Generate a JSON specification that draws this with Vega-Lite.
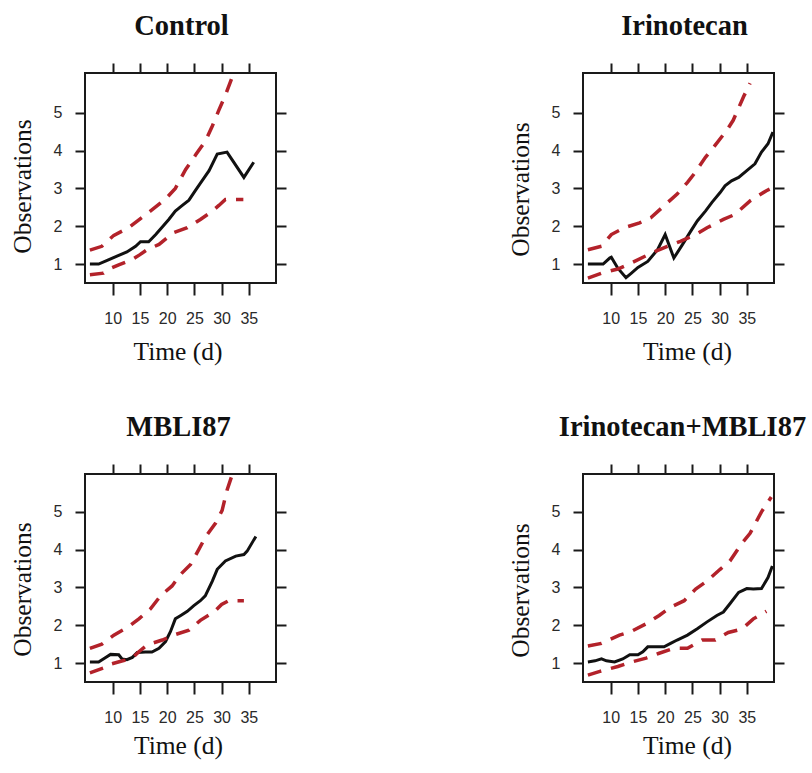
{
  "$schema": "https://vega.github.io/schema/vega-lite/v6.json",
  "padding": {"left": 9, "top": 10, "right": 0, "bottom": 0},
  "background": "white",
  "datasets": {
    "all": [
      {"p":"Control","s":"obs","d":5.8,"v":1.0},{"p":"Control","s":"obs","d":7.4,"v":1.0},{"p":"Control","s":"obs","d":9.3,"v":1.12},{"p":"Control","s":"obs","d":11.1,"v":1.23},{"p":"Control","s":"obs","d":12.6,"v":1.32},{"p":"Control","s":"obs","d":14.2,"v":1.47},{"p":"Control","s":"obs","d":15.1,"v":1.59},{"p":"Control","s":"obs","d":16.6,"v":1.59},{"p":"Control","s":"obs","d":17.9,"v":1.78},{"p":"Control","s":"obs","d":19.1,"v":1.98},{"p":"Control","s":"obs","d":20.3,"v":2.18},{"p":"Control","s":"obs","d":21.5,"v":2.4},{"p":"Control","s":"obs","d":22.5,"v":2.52},{"p":"Control","s":"obs","d":24,"v":2.69},{"p":"Control","s":"obs","d":25.2,"v":2.95},{"p":"Control","s":"obs","d":26.4,"v":3.2},{"p":"Control","s":"obs","d":27.7,"v":3.47},{"p":"Control","s":"obs","d":29.2,"v":3.91},{"p":"Control","s":"obs","d":31,"v":3.96},{"p":"Control","s":"obs","d":34.1,"v":3.29},{"p":"Control","s":"obs","d":35.9,"v":3.69},
      {"p":"Control","s":"upper","d":5.8,"v":1.37},{"p":"Control","s":"upper","d":8,"v":1.47},{"p":"Control","s":"upper","d":10.2,"v":1.76},{"p":"Control","s":"upper","d":12.9,"v":1.96},{"p":"Control","s":"upper","d":14.8,"v":2.17},{"p":"Control","s":"upper","d":16.9,"v":2.4},{"p":"Control","s":"upper","d":19.7,"v":2.72},{"p":"Control","s":"upper","d":21.5,"v":3.0},{"p":"Control","s":"upper","d":23.4,"v":3.5},{"p":"Control","s":"upper","d":25.3,"v":3.9},{"p":"Control","s":"upper","d":27.1,"v":4.27},{"p":"Control","s":"upper","d":28.3,"v":4.65},{"p":"Control","s":"upper","d":29.5,"v":5.07},{"p":"Control","s":"upper","d":30.8,"v":5.5},{"p":"Control","s":"upper","d":32,"v":5.96},{"p":"Control","s":"upper","d":32.5,"v":6.2},
      {"p":"Control","s":"lower","d":5.8,"v":0.72},{"p":"Control","s":"lower","d":8.3,"v":0.76},{"p":"Control","s":"lower","d":9.5,"v":0.88},{"p":"Control","s":"lower","d":11.1,"v":0.98},{"p":"Control","s":"lower","d":13.6,"v":1.12},{"p":"Control","s":"lower","d":15,"v":1.25},{"p":"Control","s":"lower","d":16.3,"v":1.38},{"p":"Control","s":"lower","d":18.5,"v":1.52},{"p":"Control","s":"lower","d":21.2,"v":1.83},{"p":"Control","s":"lower","d":23.7,"v":1.96},{"p":"Control","s":"lower","d":26.1,"v":2.18},{"p":"Control","s":"lower","d":28.3,"v":2.4},{"p":"Control","s":"lower","d":29.5,"v":2.55},{"p":"Control","s":"lower","d":30.7,"v":2.71},{"p":"Control","s":"lower","d":34,"v":2.71},

      {"p":"Irinotecan","s":"obs","d":5.8,"v":1.0},{"p":"Irinotecan","s":"obs","d":8.6,"v":1.0},{"p":"Irinotecan","s":"obs","d":9.8,"v":1.16},{"p":"Irinotecan","s":"obs","d":10.1,"v":1.18},{"p":"Irinotecan","s":"obs","d":11.3,"v":0.89},{"p":"Irinotecan","s":"obs","d":12.8,"v":0.64},{"p":"Irinotecan","s":"obs","d":13.8,"v":0.76},{"p":"Irinotecan","s":"obs","d":15,"v":0.91},{"p":"Irinotecan","s":"obs","d":16.8,"v":1.07},{"p":"Irinotecan","s":"obs","d":18.6,"v":1.38},{"p":"Irinotecan","s":"obs","d":20,"v":1.78},{"p":"Irinotecan","s":"obs","d":21.6,"v":1.16},{"p":"Irinotecan","s":"obs","d":23.2,"v":1.52},{"p":"Irinotecan","s":"obs","d":24.7,"v":1.87},{"p":"Irinotecan","s":"obs","d":25.9,"v":2.14},{"p":"Irinotecan","s":"obs","d":27.4,"v":2.4},{"p":"Irinotecan","s":"obs","d":28.6,"v":2.63},{"p":"Irinotecan","s":"obs","d":30.1,"v":2.89},{"p":"Irinotecan","s":"obs","d":31,"v":3.07},{"p":"Irinotecan","s":"obs","d":32.2,"v":3.2},{"p":"Irinotecan","s":"obs","d":33.5,"v":3.29},{"p":"Irinotecan","s":"obs","d":35,"v":3.47},{"p":"Irinotecan","s":"obs","d":36.5,"v":3.65},{"p":"Irinotecan","s":"obs","d":37.7,"v":3.96},{"p":"Irinotecan","s":"obs","d":38.9,"v":4.18},{"p":"Irinotecan","s":"obs","d":39.8,"v":4.49},
      {"p":"Irinotecan","s":"upper","d":5.8,"v":1.38},{"p":"Irinotecan","s":"upper","d":8.3,"v":1.47},{"p":"Irinotecan","s":"upper","d":10.1,"v":1.78},{"p":"Irinotecan","s":"upper","d":12.5,"v":1.96},{"p":"Irinotecan","s":"upper","d":15.3,"v":2.09},{"p":"Irinotecan","s":"upper","d":17.4,"v":2.23},{"p":"Irinotecan","s":"upper","d":20.1,"v":2.58},{"p":"Irinotecan","s":"upper","d":22.2,"v":2.85},{"p":"Irinotecan","s":"upper","d":24.1,"v":3.16},{"p":"Irinotecan","s":"upper","d":25.3,"v":3.38},{"p":"Irinotecan","s":"upper","d":27.4,"v":3.82},{"p":"Irinotecan","s":"upper","d":28.9,"v":4.09},{"p":"Irinotecan","s":"upper","d":31.3,"v":4.53},{"p":"Irinotecan","s":"upper","d":32.5,"v":4.8},{"p":"Irinotecan","s":"upper","d":34.4,"v":5.42},{"p":"Irinotecan","s":"upper","d":35.6,"v":5.78},
      {"p":"Irinotecan","s":"lower","d":5.8,"v":0.63},{"p":"Irinotecan","s":"lower","d":8.3,"v":0.76},{"p":"Irinotecan","s":"lower","d":11.3,"v":0.87},{"p":"Irinotecan","s":"lower","d":13.8,"v":1.03},{"p":"Irinotecan","s":"lower","d":16.2,"v":1.2},{"p":"Irinotecan","s":"lower","d":18.3,"v":1.34},{"p":"Irinotecan","s":"lower","d":20.4,"v":1.47},{"p":"Irinotecan","s":"lower","d":22.8,"v":1.6},{"p":"Irinotecan","s":"lower","d":25.6,"v":1.78},{"p":"Irinotecan","s":"lower","d":27.7,"v":1.96},{"p":"Irinotecan","s":"lower","d":30.7,"v":2.18},{"p":"Irinotecan","s":"lower","d":32.8,"v":2.31},{"p":"Irinotecan","s":"lower","d":35.6,"v":2.67},{"p":"Irinotecan","s":"lower","d":38.6,"v":2.94},{"p":"Irinotecan","s":"lower","d":39.2,"v":2.98},

      {"p":"MBLI87","s":"obs","d":5.8,"v":1.03},{"p":"MBLI87","s":"obs","d":7.4,"v":1.03},{"p":"MBLI87","s":"obs","d":8.7,"v":1.15},{"p":"MBLI87","s":"obs","d":9.6,"v":1.23},{"p":"MBLI87","s":"obs","d":11.1,"v":1.22},{"p":"MBLI87","s":"obs","d":11.7,"v":1.11},{"p":"MBLI87","s":"obs","d":12.6,"v":1.09},{"p":"MBLI87","s":"obs","d":13.6,"v":1.15},{"p":"MBLI87","s":"obs","d":14.5,"v":1.28},{"p":"MBLI87","s":"obs","d":16,"v":1.29},{"p":"MBLI87","s":"obs","d":17.2,"v":1.29},{"p":"MBLI87","s":"obs","d":18.5,"v":1.39},{"p":"MBLI87","s":"obs","d":19.7,"v":1.57},{"p":"MBLI87","s":"obs","d":20.6,"v":1.83},{"p":"MBLI87","s":"obs","d":21.5,"v":2.17},{"p":"MBLI87","s":"obs","d":22.5,"v":2.26},{"p":"MBLI87","s":"obs","d":23.7,"v":2.37},{"p":"MBLI87","s":"obs","d":24.9,"v":2.52},{"p":"MBLI87","s":"obs","d":26.1,"v":2.65},{"p":"MBLI87","s":"obs","d":27,"v":2.78},{"p":"MBLI87","s":"obs","d":28.3,"v":3.17},{"p":"MBLI87","s":"obs","d":29.2,"v":3.48},{"p":"MBLI87","s":"obs","d":30.7,"v":3.7},{"p":"MBLI87","s":"obs","d":32.6,"v":3.83},{"p":"MBLI87","s":"obs","d":34.1,"v":3.87},{"p":"MBLI87","s":"obs","d":34.7,"v":3.96},{"p":"MBLI87","s":"obs","d":36.3,"v":4.35},
      {"p":"MBLI87","s":"upper","d":5.8,"v":1.39},{"p":"MBLI87","s":"upper","d":8,"v":1.5},{"p":"MBLI87","s":"upper","d":10.2,"v":1.74},{"p":"MBLI87","s":"upper","d":12.9,"v":1.96},{"p":"MBLI87","s":"upper","d":14.8,"v":2.17},{"p":"MBLI87","s":"upper","d":16.9,"v":2.43},{"p":"MBLI87","s":"upper","d":18.8,"v":2.78},{"p":"MBLI87","s":"upper","d":20.9,"v":3.04},{"p":"MBLI87","s":"upper","d":22.5,"v":3.35},{"p":"MBLI87","s":"upper","d":24.3,"v":3.61},{"p":"MBLI87","s":"upper","d":25.8,"v":4.0},{"p":"MBLI87","s":"upper","d":27.1,"v":4.35},{"p":"MBLI87","s":"upper","d":28.9,"v":4.7},{"p":"MBLI87","s":"upper","d":30.1,"v":5.04},{"p":"MBLI87","s":"upper","d":31,"v":5.57},{"p":"MBLI87","s":"upper","d":31.9,"v":5.96},{"p":"MBLI87","s":"upper","d":32.3,"v":6.2},
      {"p":"MBLI87","s":"lower","d":5.8,"v":0.74},{"p":"MBLI87","s":"lower","d":8.3,"v":0.87},{"p":"MBLI87","s":"lower","d":9.8,"v":0.98},{"p":"MBLI87","s":"lower","d":11.5,"v":1.05},{"p":"MBLI87","s":"lower","d":13.5,"v":1.12},{"p":"MBLI87","s":"lower","d":14.8,"v":1.3},{"p":"MBLI87","s":"lower","d":16.3,"v":1.48},{"p":"MBLI87","s":"lower","d":19.1,"v":1.61},{"p":"MBLI87","s":"lower","d":21.2,"v":1.74},{"p":"MBLI87","s":"lower","d":24,"v":1.87},{"p":"MBLI87","s":"lower","d":26.1,"v":2.13},{"p":"MBLI87","s":"lower","d":28.6,"v":2.35},{"p":"MBLI87","s":"lower","d":30,"v":2.55},{"p":"MBLI87","s":"lower","d":31.3,"v":2.65},{"p":"MBLI87","s":"lower","d":34.1,"v":2.65},

      {"p":"Irinotecan+MBLI87","s":"obs","d":5.8,"v":1.03},{"p":"Irinotecan+MBLI87","s":"obs","d":7.1,"v":1.06},{"p":"Irinotecan+MBLI87","s":"obs","d":8.3,"v":1.11},{"p":"Irinotecan+MBLI87","s":"obs","d":9.2,"v":1.06},{"p":"Irinotecan+MBLI87","s":"obs","d":10.7,"v":1.03},{"p":"Irinotecan+MBLI87","s":"obs","d":12.2,"v":1.11},{"p":"Irinotecan+MBLI87","s":"obs","d":13.5,"v":1.22},{"p":"Irinotecan+MBLI87","s":"obs","d":15,"v":1.22},{"p":"Irinotecan+MBLI87","s":"obs","d":15.9,"v":1.3},{"p":"Irinotecan+MBLI87","s":"obs","d":16.8,"v":1.43},{"p":"Irinotecan+MBLI87","s":"obs","d":18,"v":1.43},{"p":"Irinotecan+MBLI87","s":"obs","d":19.8,"v":1.43},{"p":"Irinotecan+MBLI87","s":"obs","d":21,"v":1.52},{"p":"Irinotecan+MBLI87","s":"obs","d":22.2,"v":1.61},{"p":"Irinotecan+MBLI87","s":"obs","d":24.1,"v":1.74},{"p":"Irinotecan+MBLI87","s":"obs","d":25.9,"v":1.91},{"p":"Irinotecan+MBLI87","s":"obs","d":27.7,"v":2.09},{"p":"Irinotecan+MBLI87","s":"obs","d":29.5,"v":2.26},{"p":"Irinotecan+MBLI87","s":"obs","d":30.7,"v":2.35},{"p":"Irinotecan+MBLI87","s":"obs","d":31.9,"v":2.57},{"p":"Irinotecan+MBLI87","s":"obs","d":33.5,"v":2.87},{"p":"Irinotecan+MBLI87","s":"obs","d":35,"v":2.97},{"p":"Irinotecan+MBLI87","s":"obs","d":36.2,"v":2.96},{"p":"Irinotecan+MBLI87","s":"obs","d":37.7,"v":2.97},{"p":"Irinotecan+MBLI87","s":"obs","d":38.9,"v":3.26},{"p":"Irinotecan+MBLI87","s":"obs","d":39.7,"v":3.57},
      {"p":"Irinotecan+MBLI87","s":"upper","d":5.8,"v":1.45},{"p":"Irinotecan+MBLI87","s":"upper","d":8.3,"v":1.52},{"p":"Irinotecan+MBLI87","s":"upper","d":11.6,"v":1.74},{"p":"Irinotecan+MBLI87","s":"upper","d":13.8,"v":1.84},{"p":"Irinotecan+MBLI87","s":"upper","d":16.5,"v":2.04},{"p":"Irinotecan+MBLI87","s":"upper","d":18.9,"v":2.26},{"p":"Irinotecan+MBLI87","s":"upper","d":21,"v":2.48},{"p":"Irinotecan+MBLI87","s":"upper","d":23.5,"v":2.65},{"p":"Irinotecan+MBLI87","s":"upper","d":25.6,"v":2.96},{"p":"Irinotecan+MBLI87","s":"upper","d":27.7,"v":3.17},{"p":"Irinotecan+MBLI87","s":"upper","d":30.1,"v":3.48},{"p":"Irinotecan+MBLI87","s":"upper","d":31.9,"v":3.7},{"p":"Irinotecan+MBLI87","s":"upper","d":34.1,"v":4.17},{"p":"Irinotecan+MBLI87","s":"upper","d":35.6,"v":4.43},{"p":"Irinotecan+MBLI87","s":"upper","d":37.7,"v":5.0},{"p":"Irinotecan+MBLI87","s":"upper","d":39.5,"v":5.39},
      {"p":"Irinotecan+MBLI87","s":"lower","d":5.8,"v":0.68},{"p":"Irinotecan+MBLI87","s":"lower","d":8,"v":0.78},{"p":"Irinotecan+MBLI87","s":"lower","d":11.3,"v":0.91},{"p":"Irinotecan+MBLI87","s":"lower","d":13.8,"v":1.03},{"p":"Irinotecan+MBLI87","s":"lower","d":16.5,"v":1.13},{"p":"Irinotecan+MBLI87","s":"lower","d":18.9,"v":1.26},{"p":"Irinotecan+MBLI87","s":"lower","d":21.6,"v":1.39},{"p":"Irinotecan+MBLI87","s":"lower","d":24.1,"v":1.39},{"p":"Irinotecan+MBLI87","s":"lower","d":26.8,"v":1.61},{"p":"Irinotecan+MBLI87","s":"lower","d":29.2,"v":1.61},{"p":"Irinotecan+MBLI87","s":"lower","d":31.6,"v":1.81},{"p":"Irinotecan+MBLI87","s":"lower","d":34.1,"v":1.9},{"p":"Irinotecan+MBLI87","s":"lower","d":36.2,"v":2.17},{"p":"Irinotecan+MBLI87","s":"lower","d":38.6,"v":2.37}
    ]
  },
  "config": {
    "view": {"stroke": "#1a1a1a", "strokeWidth": 2},
    "axis": {"domain": false, "grid": false, "tickColor": "#1a1a1a", "tickWidth": 2, "tickSize": 10, "labelFont": "Liberation Sans", "labelFontSize": 16, "labelColor": "#2a2a2a", "titleFont": "Liberation Serif", "titleFontSize": 25.5, "titleFontWeight": "normal", "titleColor": "#111111", "labelOverlap": false},
    "title": {"font": "Liberation Serif", "fontSize": 28.5, "fontWeight": "bold", "color": "#111111", "baseline": "alphabetic", "offset": 22, "anchor": "middle"}
  },
  "columns": 2,
  "spacing": {"row": 191, "column": 307},
  "bounds": "flush",
  "concat": [
    {
      "title": {"text": "Control", "dx": 1},
      "width": 191, "height": 210,
      "data": {"name": "all"},
      "transform": [{"filter": "datum.p == 'Control'"}],
      "layer": [
        {"transform": [{"filter": "datum.s == 'obs'"}],
         "mark": {"type": "line", "color": "#111111", "strokeWidth": 3, "clip": true},
         "encoding": {
           "x": {"field": "d", "type": "quantitative", "scale": {"domain": [4.9, 40], "nice": false, "zero": false}, "axis": {"orient": "bottom", "values": [10, 15, 20, 25, 30, 35], "title": "Time (d)", "tickSize": 12, "labelPadding": 15, "titlePadding": 33, "titleBaseline": "alphabetic", "titleX": 92.5}},
           "y": {"field": "v", "type": "quantitative", "scale": {"domain": [0.5, 6.05], "nice": false, "zero": false}, "axis": {"orient": "left", "values": [1, 2, 3, 4, 5], "title": "Observations", "labelPadding": 13, "titlePadding": 23, "titleBaseline": "alphabetic", "titleY": 113}}
         }},
        {"transform": [{"filter": "datum.s != 'obs'"}],
         "mark": {"type": "line", "color": "#b3222a", "strokeWidth": 3.5, "strokeDash": [14, 10], "clip": true},
         "encoding": {
           "x": {"field": "d", "type": "quantitative", "axis": {"orient": "top", "values": [10, 15, 20, 25, 30, 35], "labels": false, "title": null}},
           "y": {"field": "v", "type": "quantitative", "axis": {"orient": "right", "values": [1, 2, 3, 4, 5], "labels": false, "title": null}},
           "detail": {"field": "s"}
         }}
      ],
      "resolve": {"axis": {"x": "independent", "y": "independent"}}
    },
    {
      "title": {"text": "Irinotecan", "dx": 6},
      "width": 191, "height": 210,
      "data": {"name": "all"},
      "transform": [{"filter": "datum.p == 'Irinotecan'"}],
      "layer": [
        {"transform": [{"filter": "datum.s == 'obs'"}],
         "mark": {"type": "line", "color": "#111111", "strokeWidth": 3, "clip": true},
         "encoding": {
           "x": {"field": "d", "type": "quantitative", "scale": {"domain": [4.9, 40], "nice": false, "zero": false}, "axis": {"orient": "bottom", "values": [10, 15, 20, 25, 30, 35], "title": "Time (d)", "tickSize": 12, "labelPadding": 15, "titlePadding": 33, "titleBaseline": "alphabetic", "titleX": 104}},
           "y": {"field": "v", "type": "quantitative", "scale": {"domain": [0.5, 6.05], "nice": false, "zero": false}, "axis": {"orient": "left", "values": [1, 2, 3, 4, 5], "title": "Observations", "labelPadding": 13, "titlePadding": 23, "titleBaseline": "alphabetic", "titleY": 116}}
         }},
        {"transform": [{"filter": "datum.s != 'obs'"}],
         "mark": {"type": "line", "color": "#b3222a", "strokeWidth": 3.5, "strokeDash": [14, 10], "clip": true},
         "encoding": {
           "x": {"field": "d", "type": "quantitative", "axis": {"orient": "top", "values": [10, 15, 20, 25, 30, 35], "labels": false, "title": null}},
           "y": {"field": "v", "type": "quantitative", "axis": {"orient": "right", "values": [1, 2, 3, 4, 5], "labels": false, "title": null}},
           "detail": {"field": "s"}
         }}
      ],
      "resolve": {"axis": {"x": "independent", "y": "independent"}}
    },
    {
      "title": {"text": "MBLI87", "dx": -2},
      "width": 191, "height": 208,
      "data": {"name": "all"},
      "transform": [{"filter": "datum.p == 'MBLI87'"}],
      "layer": [
        {"transform": [{"filter": "datum.s == 'obs'"}],
         "mark": {"type": "line", "color": "#111111", "strokeWidth": 3, "clip": true},
         "encoding": {
           "x": {"field": "d", "type": "quantitative", "scale": {"domain": [4.9, 40], "nice": false, "zero": false}, "axis": {"orient": "bottom", "values": [10, 15, 20, 25, 30, 35], "title": "Time (d)", "tickSize": 12, "labelPadding": 15, "titlePadding": 28, "titleBaseline": "alphabetic", "titleX": 93}},
           "y": {"field": "v", "type": "quantitative", "scale": {"domain": [0.5, 6.0], "nice": false, "zero": false}, "axis": {"orient": "left", "values": [1, 2, 3, 4, 5], "title": "Observations", "labelPadding": 13, "titlePadding": 23, "titleBaseline": "alphabetic", "titleY": 115}}
         }},
        {"transform": [{"filter": "datum.s != 'obs'"}],
         "mark": {"type": "line", "color": "#b3222a", "strokeWidth": 3.5, "strokeDash": [14, 10], "clip": true},
         "encoding": {
           "x": {"field": "d", "type": "quantitative", "axis": {"orient": "top", "values": [10, 15, 20, 25, 30, 35], "labels": false, "title": null}},
           "y": {"field": "v", "type": "quantitative", "axis": {"orient": "right", "values": [1, 2, 3, 4, 5], "labels": false, "title": null}},
           "detail": {"field": "s"}
         }}
      ],
      "resolve": {"axis": {"x": "independent", "y": "independent"}}
    },
    {
      "title": {"text": "Irinotecan+MBLI87", "dx": 4},
      "width": 191, "height": 208,
      "data": {"name": "all"},
      "transform": [{"filter": "datum.p == 'Irinotecan+MBLI87'"}],
      "layer": [
        {"transform": [{"filter": "datum.s == 'obs'"}],
         "mark": {"type": "line", "color": "#111111", "strokeWidth": 3, "clip": true},
         "encoding": {
           "x": {"field": "d", "type": "quantitative", "scale": {"domain": [4.9, 40], "nice": false, "zero": false}, "axis": {"orient": "bottom", "values": [10, 15, 20, 25, 30, 35], "title": "Time (d)", "tickSize": 12, "labelPadding": 15, "titlePadding": 28, "titleBaseline": "alphabetic", "titleX": 104}},
           "y": {"field": "v", "type": "quantitative", "scale": {"domain": [0.5, 6.0], "nice": false, "zero": false}, "axis": {"orient": "left", "values": [1, 2, 3, 4, 5], "title": "Observations", "labelPadding": 13, "titlePadding": 23, "titleBaseline": "alphabetic", "titleY": 116}}
         }},
        {"transform": [{"filter": "datum.s != 'obs'"}],
         "mark": {"type": "line", "color": "#b3222a", "strokeWidth": 3.5, "strokeDash": [14, 10], "clip": true},
         "encoding": {
           "x": {"field": "d", "type": "quantitative", "axis": {"orient": "top", "values": [10, 15, 20, 25, 30, 35], "labels": false, "title": null}},
           "y": {"field": "v", "type": "quantitative", "axis": {"orient": "right", "values": [1, 2, 3, 4, 5], "labels": false, "title": null}},
           "detail": {"field": "s"}
         }}
      ],
      "resolve": {"axis": {"x": "independent", "y": "independent"}}
    }
  ]
}
